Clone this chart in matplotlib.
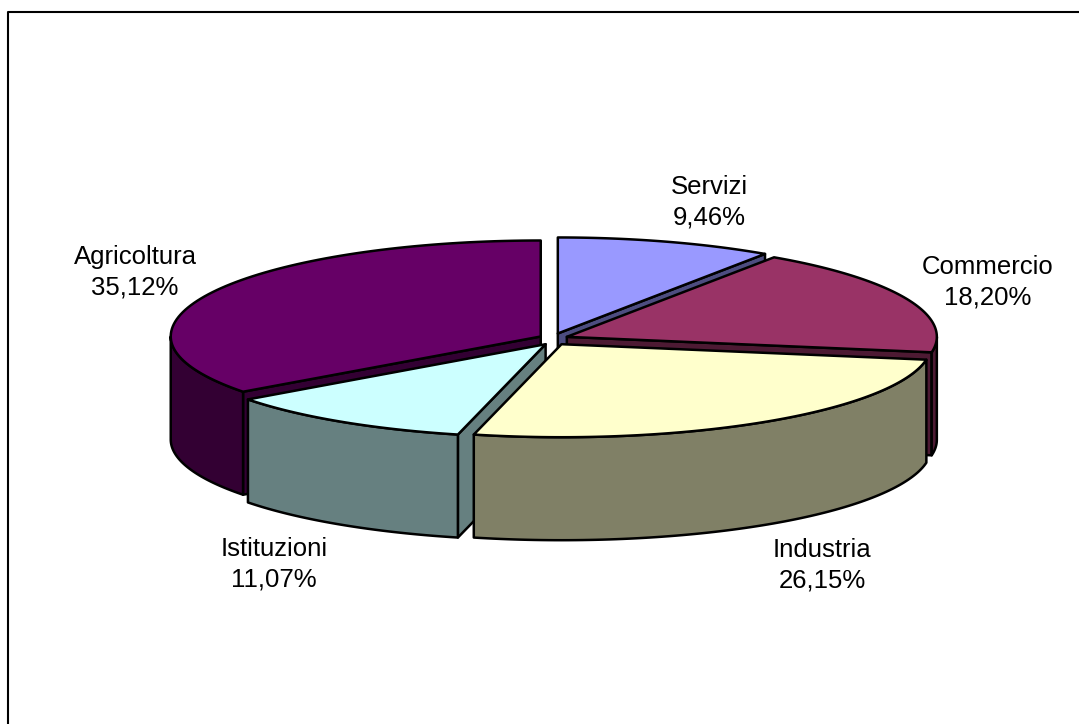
import matplotlib
matplotlib.use('Agg')
import matplotlib.pyplot as plt
import numpy as np

plt.rcParams.update({'font.family': 'Liberation Sans', 'font.size': 18.5})

labels = ['Servizi', 'Commercio', 'Industria', 'Istituzioni', 'Agricoltura']
shares = [9.46, 18.20, 26.15, 11.07, 35.12]
tops = ['#9999FF', '#993366', '#FFFFCC', '#CCFFFF', '#660066']
sides = ['#4D4D80', '#4D1A33', '#808066', '#668080', '#330033']
label_xy = [(709, 202), (988, 282), (822, 565), (274, 564), (135, 272)]

# pie geometry in pixels
CX, CY = 553.6, 339.2
A = 370
B_BACK, B_FRONT = 96, 93   # near half of the ellipse is a bit flatter
THICK = 103
EXPL_X, EXPL_Y = 14.4, 6
LW = 1.8


def rim(apex, t0, t1, n=90):
    t = np.linspace(t0, t1, n)
    c = np.cos(t)
    return np.column_stack([apex[0] + A * np.sin(t),
                            apex[1] - np.where(c > 0, B_BACK, B_FRONT) * c])


def poly(ax, pts, colour, z):
    ax.fill(pts[:, 0], pts[:, 1], facecolor=colour, edgecolor='black',
            linewidth=LW, joinstyle='round', zorder=z)


fig = plt.figure(figsize=(10.79, 7.24), dpi=100)
ax = fig.add_axes([0, 0, 1, 1])
ax.set_xlim(0, 1079)
ax.set_ylim(724, 0)
ax.axis('off')

# only the left and top of the frame fall inside the picture
ax.plot([8, 8, 1079], [724, 12, 12], color='black', lw=1.5, zorder=1)

edges = np.radians(np.cumsum([0] + shares) * 3.6)
down = np.array([0, THICK])

# back slices first, the two front ones last
for z, i in enumerate([0, 1, 4, 3, 2]):
    t0, t1 = edges[i], edges[i + 1]
    mid = (t0 + t1) / 2
    apex = np.array([CX + EXPL_X * np.sin(mid), CY - EXPL_Y * np.cos(mid)])
    base = 10 + z * 5

    # cut faces that turn toward the viewer
    if np.cos(t0 - np.pi / 2) < 0:
        p = rim(apex, t0, t0, 1)[0]
        poly(ax, np.array([apex, p, p + down, apex + down]), sides[i], base)
    if np.cos(t1 + np.pi / 2) < 0:
        p = rim(apex, t1, t1, 1)[0]
        poly(ax, np.array([apex, p, p + down, apex + down]), sides[i], base)

    # outer wall, front half of the ellipse only
    r0, r1 = max(t0, np.pi / 2), min(t1, 3 * np.pi / 2)
    if r1 > r0:
        arc = rim(apex, r0, r1)
        poly(ax, np.vstack([arc, (arc + down)[::-1]]), sides[i], base + 1)

    poly(ax, np.vstack([apex, rim(apex, t0, t1)]), tops[i], base + 2)

for name, val, (x, y) in zip(labels, shares, label_xy):
    ax.text(x, y, f"{name}\n{val:.2f}%".replace('.', ','), ha='center',
            va='center', color='black', linespacing=1.33, zorder=50)

fig.savefig('out.png', dpi=100, facecolor='white')
plt.close(fig)
